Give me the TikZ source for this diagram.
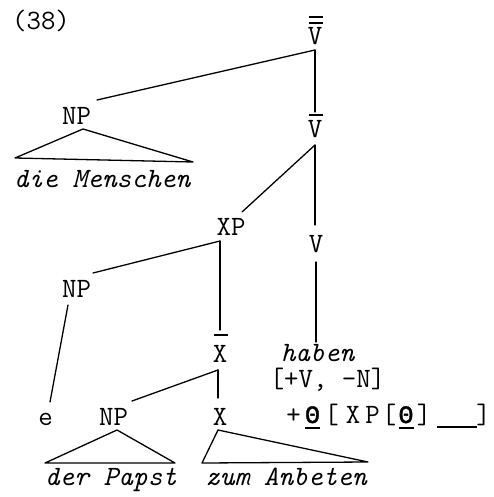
\documentclass[tikz,border=0pt]{standalone}
\usepackage{fontspec}
\usetikzlibrary{calc}
\newfontfamily\thfont{Liberation Mono}[FakeBold=1.5]
\newcommand\tw{\ttfamily\addfontfeatures{LetterSpace=4,FakeBold=1.3}\fontsize{28}{32}\selectfont}
\newcommand\sbar[2]{\leavevmode\rlap{\hspace{0.8pt}\raisebox{#2pt}{\rule{14pt}{2pt}}}#1}
\newcommand\dbar[3]{\leavevmode\rlap{\hspace{0.8pt}\raisebox{#2pt}{\rule{14pt}{2pt}}}\rlap{\hspace{0.8pt}\raisebox{#3pt}{\rule{14pt}{2pt}}}#1}
\newcommand\thchar{{\thfont\fontsize{25}{30}\selectfont Θ}}
\newcommand\uth{\makebox[15pt]{\rlap{\rule[-6pt]{15pt}{2pt}}\hfil\thchar\hfil}}
\newcommand\cell[2]{\makebox[#1pt][c]{#2}}
\begin{document}
\begin{tikzpicture}[x=1pt,y=-1pt,
  font=\tw,
  line width=1.3pt, line cap=round, line join=round,
  lab/.style={inner sep=0pt, outer sep=0pt, anchor=base},
  word/.style={inner sep=0pt, outer sep=0pt, anchor=base, font=\tw\itshape}]
\useasboundingbox (0,0) rectangle (493,497);
\node[lab] (num) at (41,30) {(38)};
\node[lab] (Vbb) at (315,45) {\dbar{V}{21}{26.5}};
\node[lab] (NPa) at (76.5,125) {NP};
\node[word] (wa) at (102,187) {die Menschen};
\node[lab] (Vb) at (315,138) {\sbar{V}{22}};
\node[lab] (XP) at (231,235) {XP};
\node[lab] (V) at (316,252) {V};
\node[lab] (NPb) at (76.5,297) {NP};
\node[lab] (Xb) at (220,362) {\sbar{X}{26}};
\node[word] (hab) at (317.5,361) {haben};
\node[lab] (feat) at (327.5,387) {[+V, -N]};
\node[lab, anchor=base west] (theta) at (284,423)
  {\cell{19}{+}\cell{19}{\uth}\cell{19}{[}\cell{24}{X}\cell{15}{P}\cell{18}{[}\cell{16}{\uth}\cell{20}{]}\cell{46}{\rule[-5pt]{40pt}{1.6pt}}\cell{7}{]}};
\node[lab] (e) at (45.5,425) {e};
\node[lab] (NPc) at (113.5,425) {NP};
\node[lab] (X) at (220,425) {X};
\node[word] (wb) at (111,485) {der Papst};
\node[word] (wc) at (286,485) {zum Anbeten};
% connectors
\draw ($(Vbb.base)+(0,5)$) -- ($(NPa.base)+(20.5,-25)$);
\draw ($(Vbb.base)+(0,5)$) -- ($(Vb.base)+(0,-26)$);
\draw ($(Vb.base)+(0,7)$) -- ($(XP.base)+(11,-23)$);
\draw ($(Vb.base)+(0,7)$) -- ($(V.base)+(-1,-27)$);
\draw ($(XP.base)+(-11,6)$) -- ($(NPb.base)+(16.5,-24)$);
\draw ($(XP.base)+(-11,6)$) -- ($(Xb.base)+(0,-32)$);
\draw ($(V.base)+(0,10)$) -- ($(hab.base)+(-1.5,-19)$);
\draw ($(NPb.base)+(-8.5,8)$) -- ($(e.base)+(4.5,-23)$);
\draw ($(Xb.base)+(-2,8)$) -- ($(NPc.base)+(18.5,-24)$);
\draw ($(Xb.base)+(-2,8)$) -- ($(X.base)+(-2,-27)$);
% triangles
\draw ($(NPa.base)+(6.5,4)$) -- ($(wa.base)+(-87,-29)$) -- ($(wa.base)+(91,-25)$) -- cycle;
\draw ($(NPc.base)+(3.5,5)$) -- ($(wb.base)+(-66,-22)$) -- ($(wb.base)+(64,-22)$) -- cycle;
\draw ($(X.base)+(-2,5)$) -- ($(wc.base)+(-84,-22)$) -- ($(wc.base)+(82,-23)$) -- cycle;
\end{tikzpicture}
\end{document}
